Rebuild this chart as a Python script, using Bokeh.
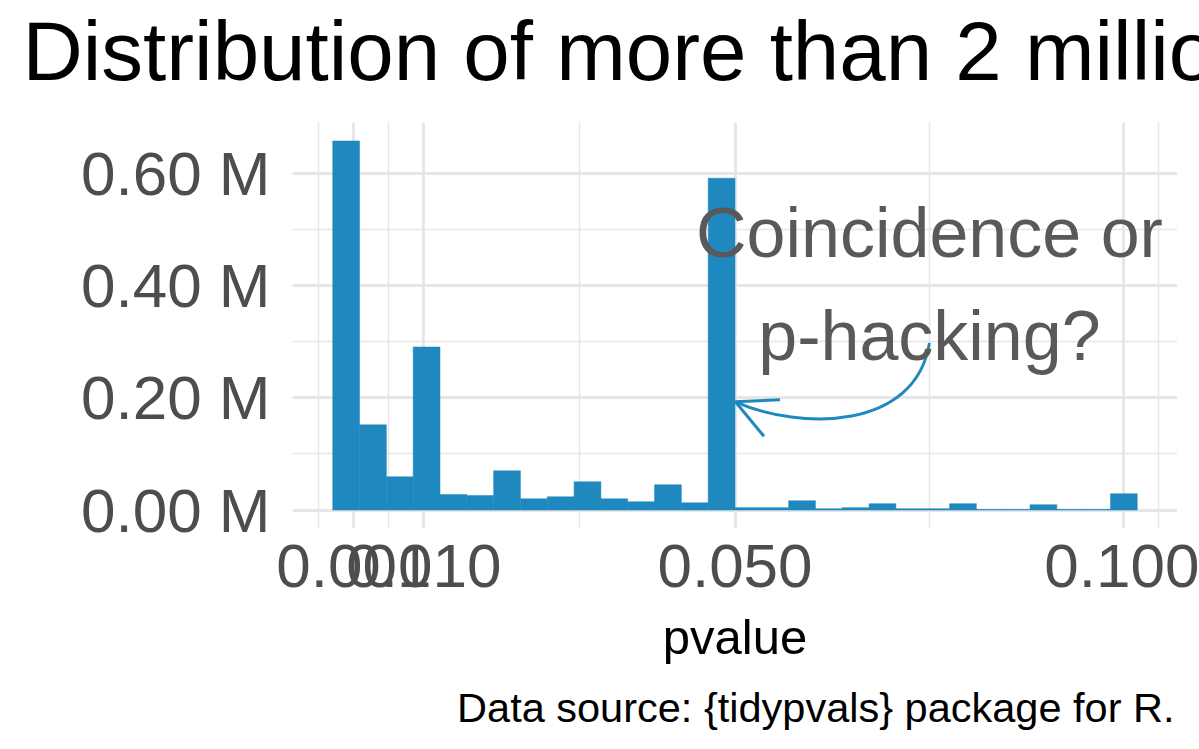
import numpy as np
from bokeh.plotting import figure
from bokeh.models import (Range1d, FixedTicker, NumeralTickFormatter, CustomJSTickFormatter,
                          Label, Arrow, OpenHead, Title)
from bokeh.embed import file_html
from bokeh.resources import INLINE

# ---- data ----
n_bins = 30
p_min, p_max = 0.0, 0.1
counts = [658000, 151900, 59300, 290700, 27800, 26000, 70000, 20100, 23700, 50400,
          20100, 14800, 45100, 13000, 591600, 4150, 4150, 16600, 2400, 4150,
          11300, 2400, 2400, 11300, 1200, 1200, 9500, 1200, 1200, 29100]
x_breaks = [0.001, 0.010, 0.050, 0.100]
x_minor = [-0.0035, 0.0055, 0.03, 0.075, 0.1045]
y_breaks = [0, 200000, 400000, 600000]
y_minor = [100000, 300000, 500000]

title_text = "Distribution of more than 2 million p-values"
x_title = "pvalue"
caption_text = "Data source: {tidypvals} package for R."
note_lines = ["Coincidence or", "p-hacking?"]

# ---- histogram geometry (ggplot-style bins centred on the data range) ----
bw = (p_max - p_min) / (n_bins - 1)
centers = p_min + bw * np.arange(n_bins)
left = centers - bw / 2
right = centers + bw / 2
x_lo, x_hi = left[0], right[-1]
x_pad = 0.05 * (x_hi - x_lo)
xr = (x_lo - x_pad, x_hi + x_pad)
ymax = max(counts)
yr = (-0.05 * ymax, 1.05 * ymax)

W, H = 1199, 749
FL, FR, FT, FB = 292, 1177, 122, 528  # frame edges in px

def px_x(px):
    return xr[0] + (px - FL) / (FR - FL) * (xr[1] - xr[0])

def px_y(py):
    return yr[0] + (FB - py) / (FB - FT) * (yr[1] - yr[0])

BLUE = "#1F88BE"
GRID = "#E6E6E6"
FONT = "Liberation Sans"

p = figure(width=W, height=H, x_range=Range1d(*xr), y_range=Range1d(*yr),
           output_backend="svg", toolbar_location=None, title=None,
           min_border_left=FL, min_border_right=W - FR,
           min_border_top=FT, min_border_bottom=H - FB)
p.outline_line_color = None
p.background_fill_color = "white"
p.border_fill_color = "white"

# near-invisible spacer next to the panel, then the title above it
p.add_layout(Title(text=".", text_font_size="2px", text_color="white", text_alpha=0.01,
                   standoff=22), "above")
p.add_layout(Title(text=title_text, align="left", offset=22 - FL, standoff=0,
                   text_font=FONT, text_font_size="83.5px", text_font_style="normal",
                   text_color="black"), "above")

p.quad(left=left, right=right, bottom=0, top=counts, fill_color=BLUE, line_color=BLUE, line_width=0.5)

# axes
for ax in (p.xaxis[0], p.yaxis[0]):
    ax.axis_line_color = None
    ax.major_tick_line_color = None
    ax.minor_tick_line_color = None
    ax.major_tick_out = 0
    ax.major_tick_in = 0
    ax.minor_tick_out = 0
    ax.minor_tick_in = 0
    ax.major_label_text_font = FONT
    ax.major_label_text_font_size = "62px"
    ax.major_label_text_color = "#4D4D4D"

p.xaxis.ticker = FixedTicker(ticks=x_breaks, minor_ticks=x_minor)
p.xaxis.formatter = NumeralTickFormatter(format="0.000")
p.xaxis.major_label_standoff = 16
p.xaxis.axis_label = x_title
p.xaxis.axis_label_text_font = FONT
p.xaxis.axis_label_text_font_size = "49px"
p.xaxis.axis_label_text_font_style = "normal"
p.xaxis.axis_label_text_color = "black"
p.xaxis.axis_label_standoff = 20
p.yaxis.ticker = FixedTicker(ticks=y_breaks, minor_ticks=y_minor)
p.yaxis.formatter = CustomJSTickFormatter(code="return (tick/1e6).toFixed(2) + ' M';")
p.yaxis.major_label_standoff = 22

for g in (p.xgrid[0], p.ygrid[0]):
    g.grid_line_color = GRID
    g.grid_line_width = 2.8
    g.minor_grid_line_color = GRID
    g.minor_grid_line_width = 1.5
    g.level = "underlay"

# caption
p.add_layout(Title(text=caption_text, align="right", offset=3, standoff=30,
                   text_font=FONT, text_font_size="41.5px", text_font_style="normal",
                   text_color="black"), "below")

# curved arrow
x_start, y_start = 0.075, 298000
x_tip, y_tip = 0.05005, 193000
c1x, c1y = px_x(915), px_y(430)
c2x, c2y = px_x(800), px_y(430)
p.bezier(x0=[x_start], y0=[y_start], x1=[x_tip], y1=[y_tip],
         cx0=[c1x], cy0=[c1y], cx1=[c2x], cy1=[c2y],
         line_color=BLUE, line_width=3)
p.add_layout(Arrow(end=OpenHead(size=40, line_color=BLUE, line_width=3),
                   x_start=c2x, y_start=c2y, x_end=x_tip, y_end=y_tip,
                   line_alpha=0))

# annotation text
p.add_layout(Label(x=0.075, y=px_y(232), text=note_lines[0], text_align="center",
                   text_baseline="alphabetic", text_font=FONT, text_font_size="70px",
                   text_color="#595959"))
p.add_layout(Label(x=0.075, y=px_y(335), text=note_lines[1], text_align="center",
                   text_baseline="alphabetic", text_font=FONT, text_font_size="70px",
                   text_color="#595959"))

open("out.html", "w").write(file_html(p, INLINE))
